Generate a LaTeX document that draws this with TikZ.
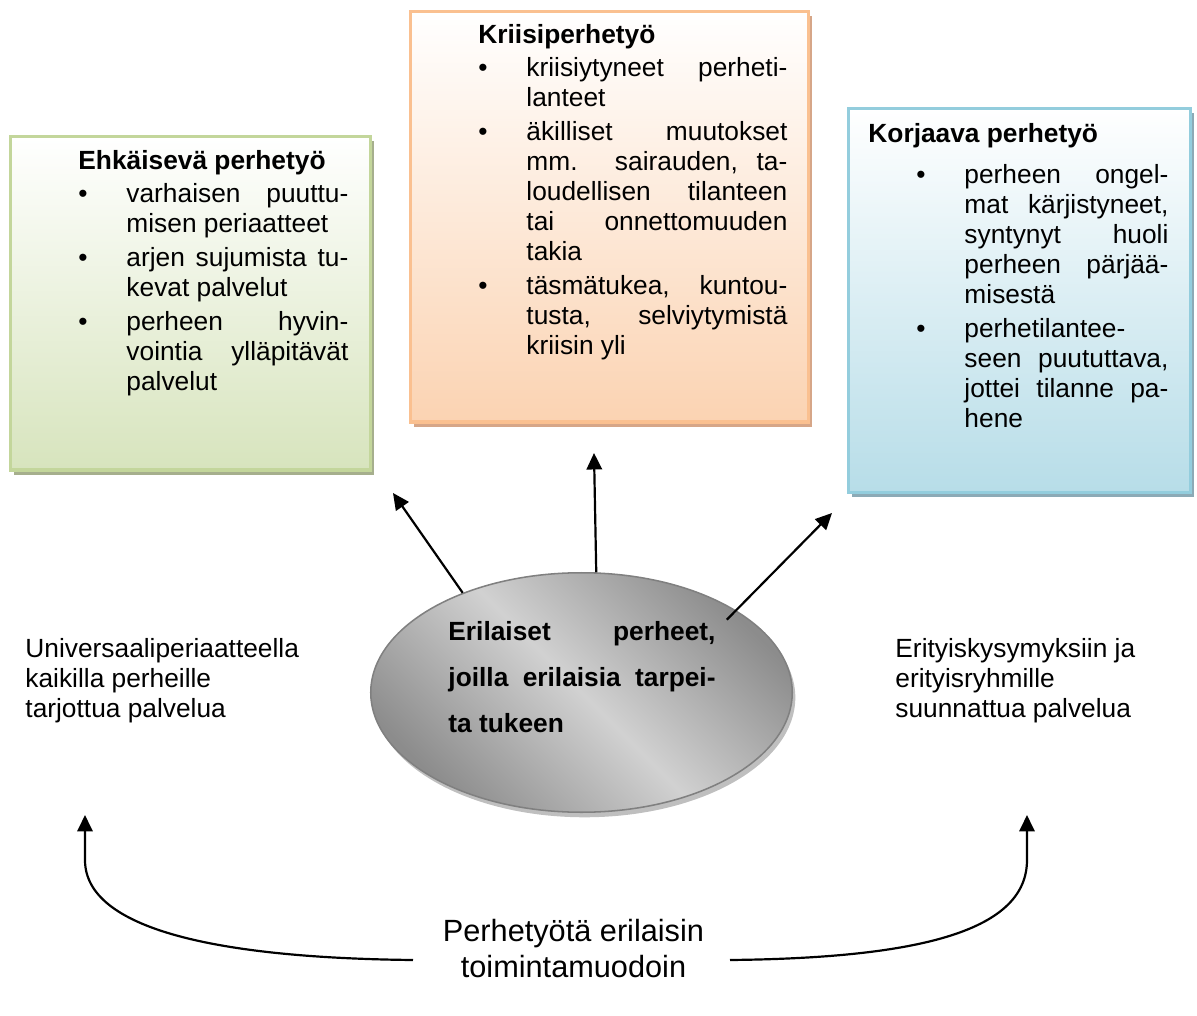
\documentclass[tikz,border=0pt]{standalone}
\usepackage{fontspec}
\setmainfont{Liberation Sans}
\usetikzlibrary{arrows.meta,%
                shapes.geometric,%
                shadows}
\usetikzlibrary{positioning}

\definecolor{greenfill}{HTML}{D7E4BD}
\definecolor{greenline}{HTML}{C3D69B}
\definecolor{greenshadow}{HTML}{A6AF8D}
\definecolor{orangefill}{HTML}{FBD3B2}
\definecolor{orangeline}{HTML}{FAC090}
\definecolor{orangeshadow}{HTML}{D6A688}
\definecolor{bluefill}{HTML}{B7DDE8}
\definecolor{blueline}{HTML}{93CDDD}
\definecolor{blueshadow}{HTML}{8CAAB6}

\setlength\parindent{0pt}
\tolerance=10000
\hyphenpenalty=10000
\newlength\riippu
\setlength\riippu{21.9pt}
\newcommand\kohta{\par\noindent\hangindent=\riippu\hangafter=1\makebox[\riippu][l]{\textbullet}\ignorespaces}

\tikzset{
    box/.style={rectangle, line width=1.4pt, inner sep=0pt, anchor=north west},
    greenbox/.style={box, draw=greenline, top color=white, bottom color=greenfill,
        general shadow={fill=greenshadow, shadow xshift=1.6pt, shadow yshift=-2.3pt}},
    orangebox/.style={box, draw=orangeline, top color=white, bottom color=orangefill,
        general shadow={fill=orangeshadow, shadow xshift=1.6pt, shadow yshift=-2.3pt}},
    bluebox/.style={box, draw=blueline, top color=white, bottom color=bluefill,
        general shadow={fill=blueshadow, shadow xshift=1.6pt, shadow yshift=-2.3pt}},
    boxtext/.style={inner sep=0pt, anchor=base west, align=justify,
        font=\fontsize{12}{13.7}\selectfont,
        execute at begin node={\setlength\parskip{1.7pt}}},
    label/.style={inner sep=0pt, anchor=base west, align=left,
        font=\fontsize{12}{13.5}\selectfont},
    nuoli/.style={line width=1pt, -{Triangle[length=7.5pt,width=7pt]}}
}

\begin{document}
\begin{tikzpicture}[x=0.456pt, y=-0.456pt]
    \useasboundingbox (0,0) rectangle (1197,1016);

    % laatikot
    \node[greenbox, minimum width=164.2pt, minimum height=152.3pt] (ehk) at (8.5,134.5) {};
    \node[orangebox, minimum width=181.5pt, minimum height=187.4pt] (kriisi) at (408.5,9.5) {};
    \node[bluebox, minimum width=156pt, minimum height=175.1pt] (korj) at (846.5,106.5) {};

    \node[boxtext, text width=123.1pt] (ehktext) at (78,169) {%
        \textbf{Ehkäisevä perhetyö}
        \kohta varhaisen puuttu-\linebreak misen periaatteet
        \kohta arjen sujumista tu-\linebreak kevat palvelut
        \kohta perheen hyvin-\linebreak vointia ylläpitävät\linebreak palvelut\par};
    \node[boxtext, text width=140.9pt] (kriisitext) at (478,43) {%
        \textbf{Kriisiperhetyö}
        \kohta kriisiytyneet perheti-\linebreak lanteet
        \kohta äkilliset muutokset\linebreak mm. sairauden, ta-\linebreak loudellisen tilanteen\linebreak tai onnettomuuden\linebreak takia
        \kohta täsmätukea, kuntou-\linebreak tusta, selviytymistä\linebreak kriisin yli\par};
    \node[boxtext, text width=136.8pt] (korjtext) at (868,142) {%
        \textbf{Korjaava perhetyö}\par\vspace{3.5pt}\leftskip=\riippu
        \kohta perheen ongel-\linebreak mat kärjistyneet,\linebreak syntynyt huoli\linebreak perheen pärjää-\linebreak misestä
        \kohta perhetilantee-\linebreak seen puututtava,\linebreak jottei tilanne pa-\linebreak hene\par};

    % keskellä
    \node[ellipse, draw=black!50, line width=0.7pt, inner sep=0pt,
          minimum width=192.2pt, minimum height=109.2pt,
          top color=black!45, bottom color=black!45, middle color=black!18, shading angle=-45,
          general shadow={fill=black!25, shadow xshift=1.4pt, shadow yshift=-2.3pt}]
          (fam) at (581.5,692.5) {};
    \node[boxtext, text width=121.8pt, font=\fontsize{12}{21}\selectfont\bfseries] (famtext) at (448,640) {%
        Erilaiset perheet,\linebreak joilla erilaisia tarpei-\linebreak ta tukeen\par};

    \node[label] (univ) at (25,717) {Universaaliperiaatteella\\kaikilla perheille\\tarjottua palvelua};
    \node[label] (erit) at (895,717) {Erityiskysymyksiin ja\\erityisryhmille\\suunnattua palvelua};
    \node[inner sep=0pt, anchor=base, align=center, font=\fontsize{14}{16}\selectfont] (toim) at (573.5,977)
        {Perhetyötä erilaisin\\toimintamuodoin};

    % nuolet
    \coordinate (tipL) at (393,493);
    \coordinate (tipM) at (594,453);
    \coordinate (tipR) at (832,513);
    \draw[nuoli] (fam.140) -- (tipL);
    \draw[nuoli] (fam.83) -- (tipM);
    \draw[nuoli, shorten <=-6pt] (fam.28) -- (tipR);

    \coordinate (curveL) at (413,960);
    \coordinate (curveR) at (730,960);
    \coordinate (upL) at (85,815);
    \coordinate (upR) at (1027,815);
    \draw[nuoli] (curveL) .. controls (220,958) and (85,930) .. (85,860) -- (upL);
    \draw[nuoli] (curveR) .. controls (923,958) and (1027,930) .. (1027,860) -- (upR);
\end{tikzpicture}
\end{document}
